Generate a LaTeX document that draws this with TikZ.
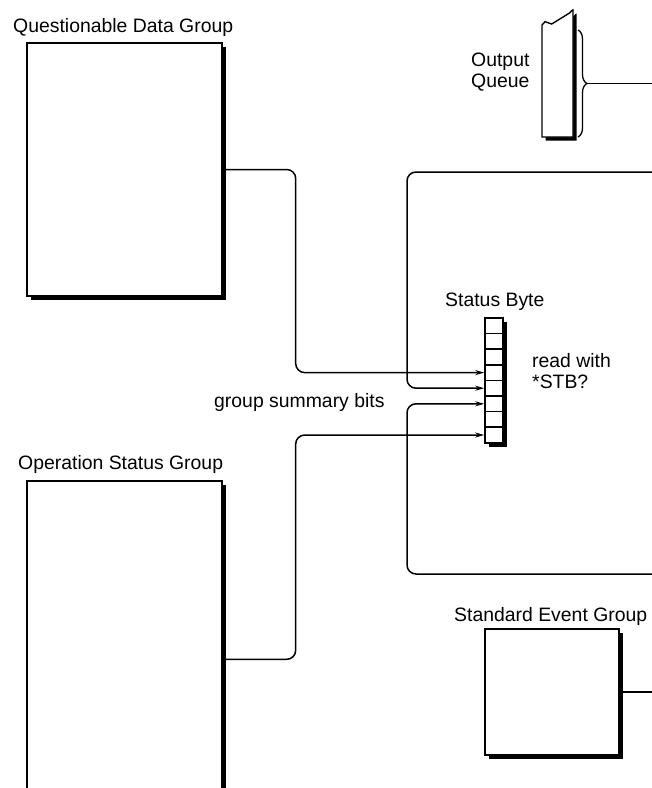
\documentclass[tikz,border=0pt]{standalone}
\usepackage{fontspec}
\setmainfont{Liberation Sans}
\usetikzlibrary{arrows.meta,shadows,decorations.pathreplacing}

\begin{document}
\begin{tikzpicture}[
    x=1pt, y=-1pt,
    every node/.style={font=\fontsize{19.4}{20.5}\selectfont, inner sep=0pt},
    grpbox/.style={rectangle, draw=black, line width=1.4pt, fill=white,
                   drop shadow={shadow xshift=3.5pt, shadow yshift=-3.5pt, fill=black, opacity=1}},
    bitcell/.style={rectangle, draw=black, line width=1.5pt, minimum width=18pt, minimum height=15.6pt},
    sig/.style={line width=1.5pt, rounded corners=9pt},
    arr/.style={sig, -{Stealth[length=9pt, width=5pt]}},
]
\useasboundingbox (0,0) rectangle (652,788);
% register groups
\node[grpbox, minimum width=195pt, minimum height=253pt] (qdg) at (124.5,169.5) {};
\node[grpbox, minimum width=195pt, minimum height=340pt] (osg) at (124.5,651) {};
\node[grpbox, minimum width=134pt, minimum height=126pt] (seg) at (552,692) {};
% status byte
\node[grpbox, minimum width=18pt, minimum height=125pt] (sb) at (494,380.5) {};
\foreach \i in {1,...,8}
    \node[bitcell] (b\i) at (494, 318+15.6*\i-7.8) {};
% output queue
\begin{scope}[shift={(3.5,3.5)}]
\fill (542,137) -- (542,25) -- (545,21.7) -- (551.7,24) -- (570,12.7) -- (571.7,10.7) -- (573,10) -- (573,137) -- cycle;
\end{scope}
\filldraw[fill=white, line width=1.4pt] (542,137) -- (542,25) -- (545,21.7) -- (551.7,24) -- (570,12.7) -- (571.7,10.7) -- (573,10) -- (573,137) -- cycle;
\draw[line width=1.3pt, decorate, decoration={brace, amplitude=9pt}] (578,30) -- (578,137);
\coordinate (oq tip) at (587,83.5);
\coordinate (right edge) at (652,0);
\coordinate (eq in) at (652,172);
\coordinate (esb in) at (652,574);
% connectors
\draw[sig] (oq tip) -- (oq tip -| right edge);
\draw[arr] (qdg.east) -- ++(73,0) |- (b4.west);
\draw[arr] (eq in) -- (407,172) |- (b5.west);
\draw[arr] (esb in) -- (407,574) |- (b6.west);
\draw[arr] ([yshift=-179pt]osg.north east) -- ++(73,0) |- (b8.west);
\draw[sig] (seg.east) -- (seg.east -| right edge);
% labels
\node[anchor=base west] (qdg lbl) at (13,32) {Questionable Data Group};
\node[anchor=base west] (osg lbl) at (18,469) {Operation Status Group};
\node[anchor=base west] (seg lbl) at (454,621) {Standard Event Group};
\node[anchor=base west] (sb lbl) at (445,306) {Status Byte};
\node[anchor=west, align=left] (stb lbl) at (532,371) {read with\\{*}STB?};
\node[anchor=base west] (sum lbl) at (214,407) {group summary bits};
\node[anchor=west, align=left] (oq lbl) at (471,72) {Output\\Queue};
\end{tikzpicture}
\end{document}
